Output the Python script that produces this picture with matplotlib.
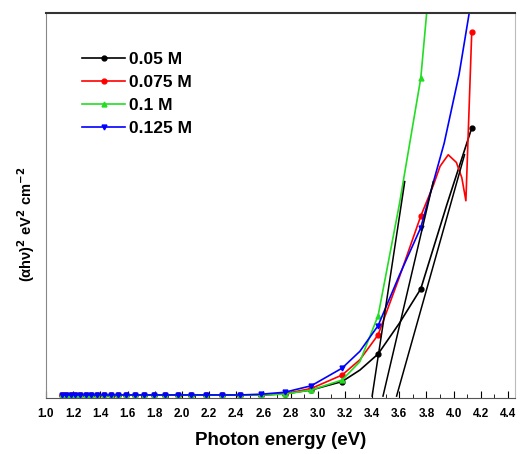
import matplotlib
matplotlib.use('Agg')
import matplotlib.pyplot as plt
from matplotlib.ticker import MultipleLocator, FormatStrFormatter

plt.rcParams['font.family'] = ['Liberation Sans', 'DejaVu Sans']

# photon energies (eV) of the marked points
energy = [1.117, 1.148, 1.181, 1.216, 1.253, 1.292, 1.333, 1.378, 1.425, 1.476,
          1.531, 1.590, 1.653, 1.722, 1.797, 1.879, 1.968, 2.067, 2.175, 2.296,
          2.431, 2.583, 2.756, 2.952, 3.179, 3.444, 3.758, 4.133]

flat = [0.3] * 21
black_y = flat + [0.3, 0.6, 1.6, 3.8, 11, 28, 70]
red_y = flat + [0.3, 0.6, 2.0, 5.5, 16, 47, 95]
green_y = flat + [0.3, 0.5, 1.6, 4.2, 21, 83, 230]
blue_y = flat + [0.5, 1.0, 2.7, 7.3, 18.4, 44, 104]

# extra (unmarked) points read between markers
black_extra_e = [3.31, 3.60, 3.95]
black_extra_v = [6.8, 19, 50]
red_extra_e = [3.31, 3.60, 3.85, 3.90, 3.96, 4.02, 4.06, 4.09]
red_extra_v = [9.5, 31, 55, 60, 63, 61, 57, 51]
green_extra_e = [3.31, 3.60]
green_extra_v = [9, 50]
blue_extra_e = [3.31, 3.60, 3.93, 4.04]
blue_extra_v = [11.7, 31.5, 66, 84]

# tangent lines (band gap extrapolation)
tangent_x = [[3.40, 3.64], [3.48, 3.85], [3.58, 4.08]]
tangent_y = [[0, 56], [0, 56], [0, 63]]

labels = ['0.05 M', '0.075 M', '0.1 M', '0.125 M']
colors = ['black', 'red', '#22dd22', 'blue']
markers = ['o', 'o', '^', 'v']


def merge(y, extra_e, extra_v):
    pts = sorted([(e, v, True) for e, v in zip(energy, y)] +
                 [(e, v, False) for e, v in zip(extra_e, extra_v)])
    xs = [p[0] for p in pts]
    ys = [p[1] for p in pts]
    marks = [i for i, p in enumerate(pts) if p[2]]
    return xs, ys, marks


fig = plt.figure(figsize=(5.25, 4.54), dpi=100)
ax = fig.add_axes([0.0876, 0.1233, 0.893, 0.848])

data = [merge(black_y, black_extra_e, black_extra_v),
        merge(red_y, red_extra_e, red_extra_v),
        merge(green_y, green_extra_e, green_extra_v),
        merge(blue_y, blue_extra_e, blue_extra_v)]
for (xs, ys, marks), col, mk, lab in zip(data, colors, markers, labels):
    ax.plot(xs, ys, color=col, marker=mk, markevery=marks, markersize=3.5,
            linewidth=1.2, label=lab)

for tx, ty in zip(tangent_x, tangent_y):
    ax.plot(tx, ty, color='black', linewidth=1.1)

ax.set_xlim(1.0, 4.45)
ax.set_ylim(-0.5, 100)
ax.xaxis.set_major_locator(MultipleLocator(0.2))
ax.xaxis.set_minor_locator(MultipleLocator(0.1))
ax.xaxis.set_major_formatter(FormatStrFormatter('%.1f'))
ax.tick_params(axis='x', which='major', direction='in', length=5, labelsize=8.5,
               top=False, pad=7)
ax.tick_params(axis='x', which='minor', direction='in', length=3, top=False)
ax.set_yticks([])
for lbl in ax.get_xticklabels():
    lbl.set_fontweight('bold')

ax.spines['top'].set_linewidth(1.5)
ax.spines['top'].set_color('#333333')
ax.spines['bottom'].set_color('#555555')
ax.spines['left'].set_color('#888888')
ax.spines['right'].set_color('#bbbbbb')

ax.set_xlabel('Photon energy (eV)', fontsize=13.5, fontweight='bold', labelpad=9)
ax.set_ylabel('(αhν)$^{\\mathbf{2}}$ eV$^{\\mathbf{2}}$ cm$^{\\mathbf{-2}}$',
              fontsize=10.5, fontweight='bold')
ax.yaxis.set_label_coords(-0.02, 0.45)

ax.legend(loc='upper left', bbox_to_anchor=(0.077, 0.898), frameon=False,
          prop={'weight': 'bold', 'size': 12.5}, handlelength=2.5,
          handletextpad=0.2, labelspacing=0.45, borderpad=0, borderaxespad=0)

fig.savefig('out.png', dpi=100)
